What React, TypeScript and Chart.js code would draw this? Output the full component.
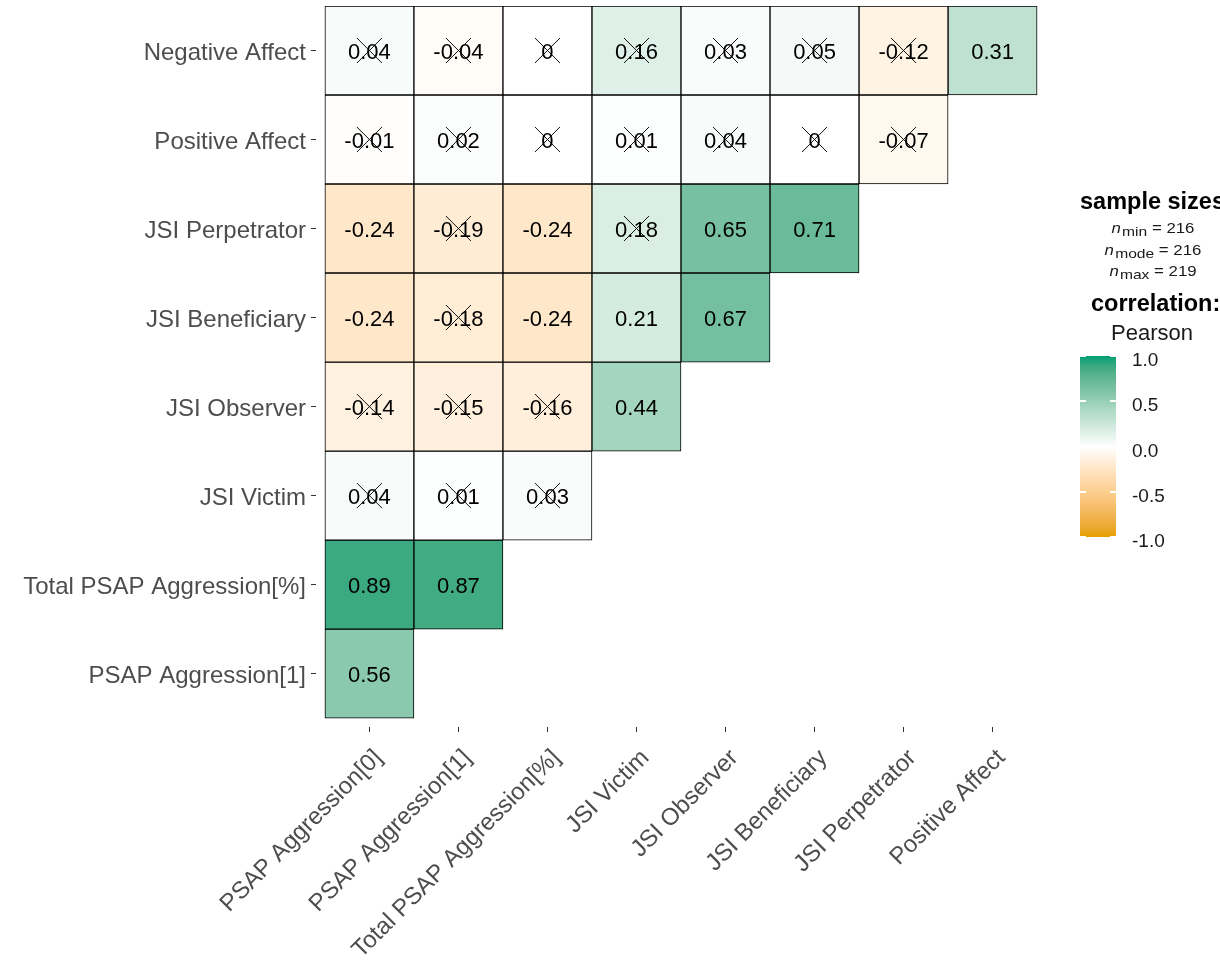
import React, { useEffect, useRef } from 'react';
import { Chart, registerables } from 'chart.js';

Chart.register(...registerables);

const FONT = '"Liberation Sans", Arial, Helvetica, sans-serif';

// Matrix columns (left to right) and rows (bottom to top)
const columns = [
  'PSAP Aggression[0]',
  'PSAP Aggression[1]',
  'Total PSAP Aggression[%]',
  'JSI Victim',
  'JSI Observer',
  'JSI Beneficiary',
  'JSI Perpetrator',
  'Positive Affect',
];
const rows = [
  'PSAP Aggression[1]',
  'Total PSAP Aggression[%]',
  'JSI Victim',
  'JSI Observer',
  'JSI Beneficiary',
  'JSI Perpetrator',
  'Positive Affect',
  'Negative Affect',
];

// Pearson correlations, lower triangle, one array per row (bottom to top)
const corrPsap1 = [0.56];
const corrTotalPsap = [0.89, 0.87];
const corrVictim = [0.04, 0.01, 0.03];
const corrObserver = [-0.14, -0.15, -0.16, 0.44];
const corrBeneficiary = [-0.24, -0.18, -0.24, 0.21, 0.67];
const corrPerpetrator = [-0.24, -0.19, -0.24, 0.18, 0.65, 0.71];
const corrPositive = [-0.01, 0.02, 0, 0.01, 0.04, 0, -0.07];
const corrNegative = [0.04, -0.04, 0, 0.16, 0.03, 0.05, -0.12, 0.31];
const correlations = [
  corrPsap1, corrTotalPsap, corrVictim, corrObserver,
  corrBeneficiary, corrPerpetrator, corrPositive, corrNegative,
];

// Non-significant correlations (crossed out)
const nsPsap1 = [false];
const nsTotalPsap = [false, false];
const nsVictim = [true, true, true];
const nsObserver = [true, true, true, false];
const nsBeneficiary = [false, true, false, false, false];
const nsPerpetrator = [false, true, false, true, false, false];
const nsPositive = [true, true, true, true, true, true, true];
const nsNegative = [true, true, true, true, true, true, true, false];
const nonSignificant = [
  nsPsap1, nsTotalPsap, nsVictim, nsObserver,
  nsBeneficiary, nsPerpetrator, nsPositive, nsNegative,
];

// Legend content
const sampleSizes = [
  { sub: 'min', n: 216 },
  { sub: 'mode', n: 216 },
  { sub: 'max', n: 219 },
];
const legendBreaks = [1, 0.5, 0, -0.5, -1];
const legendBreakLabels = ['1.0', '0.5', '0.0', '-0.5', '-1.0'];

const LOW = [230, 159, 0]; // #E69F00
const MID = [255, 255, 255];
const HIGH = [0, 158, 115]; // #009E73

// --- CIELAB colour interpolation -------------------------------------------
const WHITE_REF = [0.95047, 1, 1.08883];
function toLinear(c: number) {
  const v = c / 255;
  return v <= 0.04045 ? v / 12.92 : Math.pow((v + 0.055) / 1.055, 2.4);
}
function fromLinear(v: number) {
  const c = v <= 0.0031308 ? 12.92 * v : 1.055 * Math.pow(v, 1 / 2.4) - 0.055;
  return Math.max(0, Math.min(255, Math.round(c * 255)));
}
function rgbToLab(rgb: number[]) {
  const [r, g, b] = rgb.map(toLinear);
  const xyz = [
    (0.4124 * r + 0.3576 * g + 0.1805 * b) / WHITE_REF[0],
    (0.2126 * r + 0.7152 * g + 0.0722 * b) / WHITE_REF[1],
    (0.0193 * r + 0.1192 * g + 0.9505 * b) / WHITE_REF[2],
  ];
  const f = xyz.map((t) => (t > 0.008856 ? Math.cbrt(t) : 7.787 * t + 16 / 116));
  return [116 * f[1] - 16, 500 * (f[0] - f[1]), 200 * (f[1] - f[2])];
}
function labToRgb(lab: number[]) {
  const fy = (lab[0] + 16) / 116;
  const fx = fy + lab[1] / 500;
  const fz = fy - lab[2] / 200;
  const inv = (t: number) => (t * t * t > 0.008856 ? t * t * t : (t - 16 / 116) / 7.787);
  const x = inv(fx) * WHITE_REF[0];
  const y = inv(fy) * WHITE_REF[1];
  const z = inv(fz) * WHITE_REF[2];
  const r = 3.2406 * x - 1.5372 * y - 0.4986 * z;
  const g = -0.9689 * x + 1.8758 * y + 0.0415 * z;
  const b = 0.0557 * x - 0.204 * y + 1.057 * z;
  return [fromLinear(r), fromLinear(g), fromLinear(b)];
}
function corrColor(v: number) {
  const end = v < 0 ? LOW : HIGH;
  const t = Math.min(1, Math.abs(v));
  const a = rgbToLab(MID);
  const b = rgbToLab(end);
  const lab = a.map((c, i) => c + (b[i] - c) * t);
  const [r, g, bl] = labToRgb(lab);
  return `rgb(${r}, ${g}, ${bl})`;
}

// Legend colour-bar geometry
const BAR_LEFT = 1080;
const BAR_TOP = 356;
const BAR_W = 36;
const BAR_H = 181;
const breakY = (v: number) => BAR_TOP + ((1 - v) / 2) * BAR_H;

const cellLabelPlugin = {
  id: 'cellLabels',
  afterDatasetsDraw(chart: any) {
    const { ctx, scales } = chart;
    ctx.save();
    ctx.font = `22px ${FONT}`;
    ctx.fillStyle = '#000';
    ctx.textAlign = 'center';
    ctx.textBaseline = 'middle';
    correlations.forEach((rowVals, r) => {
      rowVals.forEach((v, c) => {
        const x = scales.x.getPixelForValue(c);
        const y = scales.y.getPixelForValue(r);
        ctx.fillText(String(v), x, y + 2);
      });
    });
    ctx.restore();
  },
};

export default function App() {
  const canvasRef = useRef<HTMLCanvasElement | null>(null);

  useEffect(() => {
    document.body.style.margin = '0';
    const canvas = canvasRef.current;
    if (!canvas) return;

    const cells: any[] = [];
    const cellColors: string[] = [];
    const crosses: any[] = [];
    correlations.forEach((rowVals, r) => {
      rowVals.forEach((v, c) => {
        cells.push({ x: c, y: [r - 0.5, r + 0.5] });
        cellColors.push(corrColor(v));
        if (nonSignificant[r][c]) crosses.push({ x: c, y: r });
      });
    });

    const tickGrid = {
      display: true,
      drawOnChartArea: false,
      drawTicks: true,
      tickLength: 5,
      color: '#333333',
      lineWidth: 1,
      offset: false,
    };

    const chart = new Chart(canvas, {
      type: 'bar',
      data: {
        datasets: [
          {
            type: 'bar',
            data: cells,
            backgroundColor: cellColors,
            borderColor: '#000000',
            borderWidth: 1,
            borderSkipped: false,
            barPercentage: 1,
            categoryPercentage: 1,
            order: 2,
          } as any,
          {
            type: 'scatter',
            data: crosses,
            pointStyle: 'crossRot',
            pointRadius: 17.7,
            pointHoverRadius: 17.7,
            pointBorderColor: '#111111',
            pointBorderWidth: 1,
            pointBackgroundColor: 'rgba(0,0,0,0)',
            showLine: false,
            order: 1,
          } as any,
        ],
      },
      options: {
        animation: false,
        responsive: false,
        maintainAspectRatio: false,
        events: [],
        layout: { autoPadding: false, padding: { top: 6, right: 174, left: 0, bottom: 0 } },
        plugins: {
          legend: { display: false },
          tooltip: { enabled: false },
          title: { display: false },
        },
        scales: {
          x: {
            type: 'linear',
            min: -0.6,
            max: 7.6,
            offset: false,
            grid: tickGrid,
            border: { display: false },
            ticks: {
              stepSize: 1,
              includeBounds: false,
              autoSkip: false,
              minRotation: 45,
              maxRotation: 45,
              padding: 12,
              labelOffset: 9,
              color: '#4D4D4D',
              font: { family: FONT, size: 24 },
              callback: (v: any) => (Number.isInteger(v) ? columns[v] ?? '' : ''),
            },
            afterFit: (s: any) => {
              s.height = 234;
              s.paddingLeft = 0;
              s.paddingRight = 0;
            },
          },
          y: {
            type: 'linear',
            min: -0.6,
            max: 7.5,
            beginAtZero: false,
            offset: false,
            grid: tickGrid,
            border: { display: false },
            ticks: {
              stepSize: 1,
              includeBounds: false,
              autoSkip: false,
              padding: 5,
              labelOffset: 3,
              color: '#4D4D4D',
              font: { family: FONT, size: 24 },
              callback: (v: any) => (Number.isInteger(v) ? rows[v] ?? '' : ''),
            },
            afterFit: (s: any) => {
              s.width = 316;
              s.paddingTop = 0;
              s.paddingBottom = 0;
            },
          },
        },
      } as any,
      plugins: [cellLabelPlugin],
    });

    return () => chart.destroy();
  }, []);

  const gradientStops: string[] = [];
  for (let i = 0; i <= 20; i++) {
    const v = -1 + i / 10;
    gradientStops.push(`${corrColor(v)} ${(i / 20) * 100}%`);
  }

  const textAt = (left: number, cy: number, lh: number): React.CSSProperties => ({
    position: 'absolute',
    left,
    top: cy - lh / 2,
    height: lh,
    lineHeight: `${lh}px`,
    whiteSpace: 'nowrap',
  });

  return (
    <div
      style={{
        position: 'absolute',
        left: 0,
        top: 0,
        width: 1220,
        height: 961,
        overflow: 'hidden',
        background: '#ffffff',
        fontFamily: FONT,
      }}
    >
      <canvas
        ref={canvasRef}
        width={1220}
        height={961}
        style={{ position: 'absolute', left: 0, top: 0, width: 1220, height: 961 }}
      />
      <div style={{ ...textAt(1080, 201, 28), fontSize: 23.5, fontWeight: 'bold', color: '#000' }}>
        sample sizes:
      </div>
      {sampleSizes.map((s, i) => (
        <div
          key={s.sub}
          style={{
            position: 'absolute',
            left: 1053,
            width: 200,
            top: 228 + i * 21.7 - 9,
            height: 18,
            lineHeight: '18px',
            textAlign: 'center',
            whiteSpace: 'nowrap',
            fontSize: 14,
            color: '#1a1a1a',
            transform: 'scaleX(1.2)',
          }}
        >
          <i>n</i>
          <span style={{ fontSize: 13, position: 'relative', top: 3, marginLeft: 1 }}>{s.sub}</span>
          {` = ${s.n}`}
        </div>
      ))}
      <div style={{ ...textAt(1091, 303, 28), fontSize: 23.5, fontWeight: 'bold', color: '#000' }}>
        correlation:
      </div>
      <div style={{ ...textAt(1111, 333, 26), fontSize: 22, color: '#1a1a1a' }}>Pearson</div>
      <div
        style={{
          position: 'absolute',
          left: BAR_LEFT,
          top: BAR_TOP,
          width: BAR_W,
          height: BAR_H,
          background: `linear-gradient(to top, ${gradientStops.join(', ')})`,
        }}
      />
      {legendBreaks.map((v) => (
        <React.Fragment key={`t${v}`}>
          <div
            style={{
              position: 'absolute',
              left: BAR_LEFT,
              top: breakY(v) - 1,
              width: 6,
              height: 2,
              background: '#ffffff',
            }}
          />
          <div
            style={{
              position: 'absolute',
              left: BAR_LEFT + BAR_W - 6,
              top: breakY(v) - 1,
              width: 6,
              height: 2,
              background: '#ffffff',
            }}
          />
        </React.Fragment>
      ))}
      {legendBreaks.map((v, i) => (
        <div
          key={`l${v}`}
          style={{
            ...textAt(1132, breakY(v) + 4, 24),
            fontSize: 19,
            color: '#1a1a1a',
          }}
        >
          {legendBreakLabels[i]}
        </div>
      ))}
    </div>
  );
}
